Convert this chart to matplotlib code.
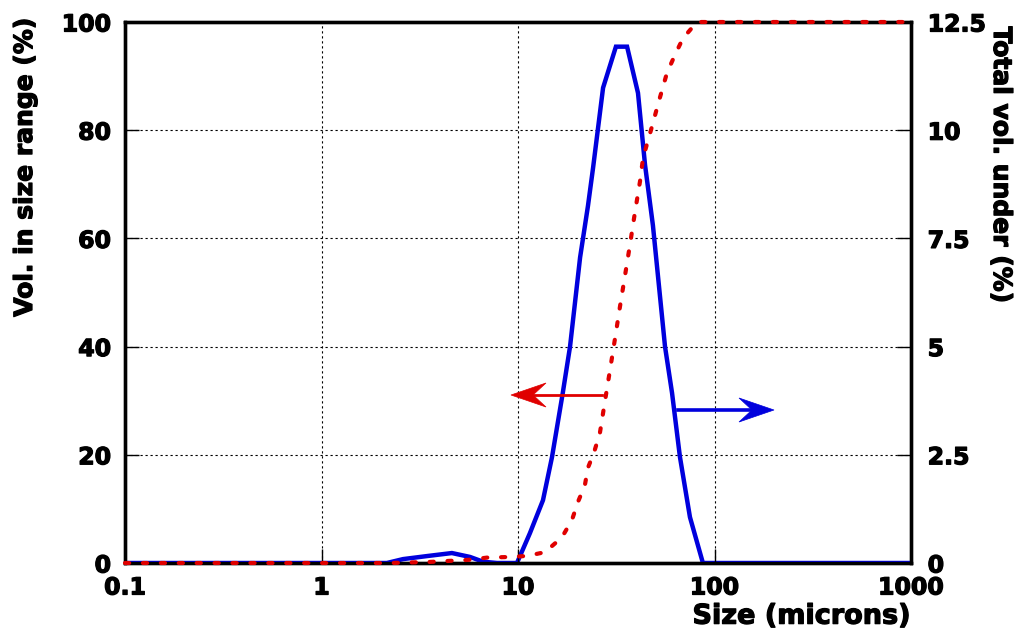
import matplotlib
matplotlib.use('Agg')
import matplotlib.pyplot as plt
import matplotlib.patheffects as pe
from matplotlib.patches import Polygon
from matplotlib.lines import Line2D
from matplotlib.ticker import FixedLocator, FixedFormatter, NullLocator

# ---- data ----
x_ticks = [0.1, 1, 10, 100, 1000]
x_tick_labels = ["0.1", "1", "10", "100", "1000"]
left_ticks = [0, 20, 40, 60, 80, 100]
left_tick_labels = ["0", "20", "40", "60", "80", "100"]
right_ticks = [0, 2.5, 5, 7.5, 10, 12.5]
right_tick_labels = ["0", "2.5", "5", "7.5", "10", "12.5"]

# distribution (blue, right axis)
blue_size = [0.1, 2.15, 2.60, 3.44, 4.61, 5.70, 6.64, 7.82, 9.88, 11.5, 13.4, 14.9,
             16.9, 18.4, 20.7, 22.7, 24.1, 27.1, 31.5, 35.9, 40.8, 44.3, 48.6, 56.0,
             60.8, 66.7, 75.0, 87.3, 1000]
blue_val = [0, 0, 0.09, 0.16, 0.23, 0.14, 0.03, 0, 0, 0.69, 1.45, 2.45,
            3.93, 5.0, 7.06, 8.25, 9.13, 10.98, 11.93, 11.93, 10.86, 9.2, 7.8, 5.0,
            3.93, 2.45, 1.06, 0, 0]

# cumulative (red, left axis)
red_size = [0.1, 2.23, 3.56, 4.51, 5.70, 6.96, 8.79, 11.1, 13.7, 16.7, 18.8, 20.2,
            21.9, 22.7, 24.4, 26.1, 27.7, 29.4, 31.2, 33.0, 35.1, 37.2, 39.4, 41.8,
            43.3, 48.6, 51.5, 57.3, 62.9, 69.1, 81.5, 1000]
red_val = [0, 0, 0.2, 0.4, 0.6, 1.0, 1.1, 1.3, 2.0, 4.7, 7.9, 11.3,
           14.4, 17.6, 20.5, 24.0, 29.9, 35.7, 41.6, 47.3, 53.3, 59.0, 64.9, 70.6,
           74.9, 81.3, 84.7, 90.6, 93.9, 97.0, 100, 100]

FONT = 'DejaVu Sans'
HEAVY = [pe.withStroke(linewidth=0.9, foreground='black')]
W, H = 1025, 635
fig = plt.figure(figsize=(W / 100, H / 100), dpi=100)
fig.patch.set_facecolor('white')

L, R, T, B = 125, 911, 22, 563
rect = [L / W, 1 - B / H, (R - L) / W, (B - T) / H]
ax2 = fig.add_axes(rect)              # right axis (blue), drawn below
ax1 = fig.add_axes(rect, sharex=ax2)  # left axis (red), drawn on top
ax1.patch.set_visible(False)
ax2.patch.set_facecolor('white')
ax1.set_zorder(2)
ax2.set_zorder(1)

ax2.yaxis.tick_right()

for a in (ax1, ax2):
    a.set_xscale('log')
    a.set_xlim(0.1, 1000)

ax1.set_ylim(0, 100)
ax2.set_ylim(0, 12.5)

# lines
ax2.plot(blue_size, blue_val, color='#0000dd', lw=3.2, solid_joinstyle='miter', zorder=3)
ax1.plot(red_size, red_val, color='#e00000', lw=3.0, dashes=(1.0, 3.3),
         dash_capstyle='round', clip_on=False, zorder=4)

# ticks
ax1.xaxis.set_major_locator(FixedLocator(x_ticks))
ax1.xaxis.set_major_formatter(FixedFormatter(x_tick_labels))
ax1.xaxis.set_minor_locator(NullLocator())
ax1.yaxis.set_major_locator(FixedLocator(left_ticks))
ax1.yaxis.set_major_formatter(FixedFormatter(left_tick_labels))
ax2.yaxis.set_major_locator(FixedLocator(right_ticks))
ax2.yaxis.set_major_formatter(FixedFormatter(right_tick_labels))
ax2.xaxis.set_minor_locator(NullLocator())

ax1.tick_params(axis='both', which='major', direction='in', length=10, width=1.0,
                labelsize=17, colors='black')
ax1.tick_params(axis='y', pad=10, right=False)
ax1.tick_params(axis='x', pad=9, top=False)
ax2.tick_params(axis='y', which='major', direction='in', length=10, width=1.0,
                labelsize=17, pad=12, left=False, right=True, labelleft=False, labelright=True)
ax2.tick_params(axis='x', which='both', length=0, labelbottom=False, top=False)

for lab in ax1.get_xticklabels() + ax1.get_yticklabels() + ax2.get_yticklabels():
    lab.set_fontfamily(FONT)
    lab.set_fontweight('bold')
    lab.set_path_effects(HEAVY)

# grid (on lower axes so curves sit on top)
ax2.grid(True, which='major', axis='both', color='black', lw=0.8, ls=(0, (2, 2.5)))
ax2.set_axisbelow(True)

for a in (ax1, ax2):
    for s in a.spines.values():
        s.set_linewidth(2.4)
        s.set_color('black')

# labels
ax1.set_xlabel('Size (microns)', fontsize=19.5, fontweight='bold', fontfamily=FONT,
               loc='right', labelpad=3, path_effects=HEAVY)
fig.text(25 / W, 1 - 167 / H, 'Vol. in size range (%)', fontsize=18, fontweight='bold',
         fontfamily=FONT, rotation=90, ha='center', va='center', path_effects=HEAVY)
fig.text(1001 / W, 1 - 165 / H, 'Total vol. under (%)', fontsize=18, fontweight='bold',
         fontfamily=FONT, rotation=-90, ha='center', va='center', path_effects=HEAVY)


def px(x, y):
    return (x / W, 1 - y / H)


def arrow(x0, x1, y, color, lw, hl=35, hw=12, notch=13):
    d = 1 if x1 > x0 else -1
    xn = x1 - d * (hl - notch)
    fig.add_artist(Line2D([px(x0, y)[0], px(xn, y)[0]], [px(x0, y)[1], px(xn, y)[1]],
                          transform=fig.transFigure, color=color, lw=lw, zorder=10))
    pts = [px(x1, y), px(x1 - d * hl, y - hw), px(xn, y), px(x1 - d * hl, y + hw)]
    fig.add_artist(Polygon(pts, closed=True, transform=fig.transFigure,
                           facecolor=color, edgecolor=color, lw=0.5, zorder=10))


arrow(602, 511, 395, '#e00000', 2.0)
arrow(678, 774, 410, '#0000dd', 2.6)

fig.savefig('out.png', dpi=100, facecolor='white')
